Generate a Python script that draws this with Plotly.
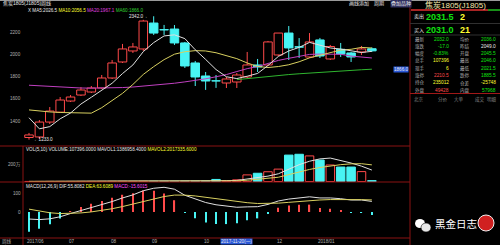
import plotly.graph_objects as go

W, H = 500, 245
def px(x): return x / W
def py(y): return 1 - y / H

FONT = "Liberation Sans, Noto Sans CJK SC, DejaVu Sans"

weeks = ["2017-06-05","2017-06-12","2017-06-19","2017-06-26","2017-07-03","2017-07-10","2017-07-17",
         "2017-07-24","2017-07-31","2017-08-07","2017-08-14","2017-08-21","2017-08-28","2017-09-04",
         "2017-09-11","2017-09-18","2017-09-25","2017-10-09","2017-10-16","2017-10-23","2017-10-30",
         "2017-11-06","2017-11-13","2017-11-20","2017-11-27","2017-12-04","2017-12-11","2017-12-18",
         "2017-12-25","2018-01-01","2018-01-08","2018-01-15","2018-01-22","2018-01-29"]
opens  = [1252,1257,1391,1480,1580,1634,1661,1697,1787,1931,2030,2048,2281,2222,2227,2102,1922,1805,
          1762,1742,1751,1796,1904,1904,1994,2191,2068,1976,2129,1958,2045,2012,2021,2050]
highs  = [1293,1409,1526,1616,1634,1706,1715,1814,1949,2093,2102,2310,2342,2264,2263,2111,1940,1841,
          1814,1796,1832,2021,1958,2120,2191,2254,2146,2191,2147,2084,2102,2021,2075,2062]
lows   = [1233,1238,1373,1472,1571,1625,1652,1688,1778,1922,2012,2030,2174,2174,2084,1877,1715,1680,
          1698,1697,1697,1787,1841,1895,1985,1949,1967,1967,1967,1949,1976,1931,1994,2021]
closes = [1275,1391,1490,1589,1616,1679,1697,1787,1922,2048,2066,2299,2191,2219,2102,1895,1796,1760,
          1760,1778,1814,1904,1886,2111,2191,2057,2064,2111,1985,2070,2003,1976,2048,2031]
ma5  = [1430,1330,1350,1420,1472,1553,1614,1674,1740,1827,1904,2024,2105,2165,2175,2141,2041,1954,
        1863,1798,1782,1803,1828,1899,1981,2030,2062,2107,2082,2057,2047,2029,2016,2026.5]
ma10 = [1500,1490,1482,1477,1474,1472,1471,1520,1585,1649,1729,1819,1889,1952,2001,2023,2033,2030,
        2014,1987,1961,1922,1891,1881,1890,1906,1933,1968,1990,2019,2038,2045,2062,2056.5]
ma20 = [1722,1716,1710,1705,1700,1697,1696,1696,1698,1701,1706,1713,1721,1730,1740,1752,1765,1780,
        1798,1818,1845,1871,1890,1917,1945,1964,1983,1999,2002,2003,2000,1984,1977,1967.1]
ma60 = [None]*20 + [1772,1782,1792,1802,1810,1818,1825,1832,1838,1844,1850,1855,1861,1866.0]
volumes = [8000,9000,12000,10000,11000,12000,15000,18000,22000,25000,20000,30000,28000,25000,30000,
           40000,45000,60000,250000,80000,200000,800000,1000000,1180000,1500000,3200000,3300000,
           3100000,2600000,2000000,1750000,1750000,1200000,107396]
mavol1 = [9000,9500,10000,10000,10000,10800,12000,13200,15600,18400,20000,23000,25000,25600,26600,
          30600,33600,40000,85000,95000,127000,278000,466000,652000,936000,1536000,2036000,2456000,
          2740000,2840000,2550000,2240000,1860000,1386958.4]
mavol2 = [9000,9200,9500,9700,9800,10000,10500,11200,12600,14200,15200,17300,19000,20500,22400,
          25300,28300,32500,55000,60000,75000,156000,253000,369000,516000,832000,1157000,1461000,
          1696000,1888000,2043000,2138000,2158000,2017335.6]
dif = [-37,-40,-36,-25,-8,8,22,37,55,74,90,112,125,130,120,88,68,50,38,30,25,27,28,40,58,68,75,80,
       74,74,70,63,63,55.8082]
dea = [15,4,-4,-8.2,-8.2,-4.9,0.5,7.8,17.2,28.6,40.8,55.1,69.1,81.3,89.0,88.8,84.6,77.7,69.8,61.8,
       54.4,49.0,44.8,43.8,46.6,50.9,55.7,60.6,63.3,65.4,66.3,65.6,65.1,63.6089]
macd = [-104,-88,-64,-33.6,0.4,25.8,43,58.4,75.6,90.8,98.4,113.8,111.8,97.4,62,-1.6,-33.2,-55.4,
        -63.6,-63.6,-58.8,-44,-33.6,-7.6,22.8,34.2,38.6,38.8,21.4,17.2,7.4,-5.2,-4.2,-15.6015]
month_idx = [0,4,8,12,17,24,28]
month_lbl = ["2017/06","07","08","09","10","12","2018/01"]
price_ticks = [2200,2000,1800,1600,1400]

RED = "#ff4a4a"
CYAN = "#48f4f4"
GRN = "#10e010"
YEL = "#ffff30"
WHT = "#e8e8e8"
GRY = "#b0b0b0"
LINE_RED = "#8a1212"

X = list(range(len(weeks)))
up = [c >= o for o, c in zip(opens, closes)]

fig = go.Figure()

# wicks (split so hollow bodies stay empty)
for flag, col in ((True, RED), (False, CYAN)):
    wx, wy = [], []
    for i in X:
        if up[i] != flag:
            continue
        top, bot = max(opens[i], closes[i]), min(opens[i], closes[i])
        wx += [i, i, None, i, i, None]
        wy += [highs[i], top, None, bot, lows[i], None]
    fig.add_trace(go.Scatter(x=wx, y=wy, mode="lines", line=dict(color=col, width=1),
                             hoverinfo="skip", showlegend=False))

# bodies
fig.add_trace(go.Bar(
    x=X, y=[max(abs(c - o), 2) for o, c in zip(opens, closes)],
    base=[min(o, c) for o, c in zip(opens, closes)], width=0.82,
    marker=dict(color=["black" if u else CYAN for u in up],
                line=dict(color=[RED if u else CYAN for u in up], width=1)),
    showlegend=False, hoverinfo="skip"))

# moving averages
for arr, col in ((ma60, "#2fb52f"), (ma20, "#c040c0"), (ma10, "#d8d060"), (ma5, "#e0e0e0")):
    fig.add_trace(go.Scatter(x=X, y=arr, mode="lines", line=dict(color=col, width=1),
                             showlegend=False, hoverinfo="skip"))

# volume
fig.add_trace(go.Bar(
    x=X, y=volumes, width=0.82, yaxis="y2",
    marker=dict(color=["black" if u else CYAN for u in up],
                line=dict(color=[RED if u else CYAN for u in up], width=1)),
    showlegend=False, hoverinfo="skip"))
fig.add_trace(go.Scatter(x=X, y=mavol1, yaxis="y2", mode="lines", line=dict(color="#e0e0e0", width=1),
                         showlegend=False, hoverinfo="skip"))
fig.add_trace(go.Scatter(x=X, y=mavol2, yaxis="y2", mode="lines", line=dict(color="#d8d060", width=1),
                         showlegend=False, hoverinfo="skip"))

# MACD
fig.add_trace(go.Bar(
    x=X, y=macd, width=0.12, yaxis="y3",
    marker=dict(color=[RED if v >= 0 else CYAN for v in macd], line=dict(width=0)),
    showlegend=False, hoverinfo="skip"))
fig.add_trace(go.Scatter(x=X, y=dif, yaxis="y3", mode="lines", line=dict(color="#e0e0e0", width=1),
                         showlegend=False, hoverinfo="skip"))
fig.add_trace(go.Scatter(x=X, y=dea, yaxis="y3", mode="lines", line=dict(color="#d8d060", width=1),
                         showlegend=False, hoverinfo="skip"))

ann = []
def A(x, y, text, color=WHT, size=4.6, xanchor="left", yanchor="middle", bg=None, xref="paper",
      yref="paper"):
    d = dict(x=x, y=y, text=text, showarrow=False, xref=xref, yref=yref, xanchor=xanchor,
             yanchor=yanchor, font=dict(color=color, size=size, family=FONT), borderpad=0,
             align="left")
    if bg:
        d["bgcolor"] = bg
    ann.append(d)

def S(text, color):
    return f'<span style="color:{color}">{text}</span>'

# header / titles
A(px(2), py(4), "焦炭1805(J1805)周线", WHT, 5)
A(px(348), py(4), "画线添加", WHT, 5)
A(px(373), py(4), "周期", WHT, 5)
A(px(390), py(4), "叠加品种", WHT, 5, bg="#303060")
A(px(27), py(11),
  S("X", WHT) + " " + S("MA5:2026.5", WHT) + " " + S("MA10:2056.5", YEL) + " " +
  S("MA20:1967.1", "#e040e0") + " " + S("MA60:1866.0", "#30d030"), WHT, 4.6)
A(px(25), py(149.5),
  S("VOL(5,10) VOLUME:107396.0000 MAVOL1:1386958.4000 ", WHT) + S("MAVOL2:2017335.6000", YEL),
  WHT, 4.6)
A(px(25), py(186),
  S("MACD(12,26,9) DIF:55.8082 ", WHT) + S("DEA:63.6089 ", YEL) + S("MACD:-15.6015", "#ff50ff"),
  WHT, 4.6)

# axis labels
for t in price_ticks:
    A(px(21.5), t, str(t), GRY, 4.6, xanchor="right", yref="y")
A(px(21.5), 2000000, "200万", GRY, 4.6, xanchor="right", yref="y2")
A(px(21.5), 100, "100", GRY, 4.6, xanchor="right", yref="y3")
A(px(21.5), 0, "0", GRY, 4.6, xanchor="right", yref="y3")

# extremes
A(11.55, 2342, "2342.0→", WHT, 4.6, xanchor="right", xref="x", yref="y")
A(0.35, 1233, "←1233.0", WHT, 4.6, xanchor="left", xref="x", yref="y")
A(px(409), 1866.0, "1866.0", WHT, 4.6, xanchor="right", yref="y", bg="#2a58d8")

# date axis
A(px(1), py(241.5), "周线", GRY, 4.6)
for i, lbl in zip(month_idx, month_lbl):
    A(i - 0.25, py(241.5), lbl, GRY, 4.6, xref="x")
A(20, py(241.5), "2017-11-20(一)", WHT, 4.6, xanchor="center", xref="x", bg="#2a58d8")

# right panel
A(px(455), py(5), "焦炭1805(J1805)", "#f4e6a8", 8, xanchor="center")
A(px(413), py(17), "卖出", WHT, 5)
A(px(455), py(17), "<b>2031.5</b>", GRN, 9, xanchor="right")
A(px(459), py(17), "<b>2</b>", YEL, 9)
A(px(413), py(30), "买入", WHT, 5)
A(px(455), py(30), "<b>2031.0</b>", GRN, 9, xanchor="right")
A(px(459), py(30), "<b>21</b>", YEL, 9)

rows = [("最新", "2032.0", GRN, "均价", "2036.0", GRN),
        ("涨跌", "-17.0", GRN, "昨结", "2049.0", WHT),
        ("幅度", "-0.83%", GRN, "开盘", "2045.5", GRN),
        ("总手", "107396", YEL, "最高", "2046.0", GRN),
        ("现手", "6", YEL, "最低", "2021.5", GRN),
        ("涨停", "2210.5", RED, "跌停", "1885.5", GRN),
        ("持仓", "235012", YEL, "仓差", "-25748", YEL),
        ("外盘", "49428", RED, "内盘", "57968", GRN)]
for k, (l1, v1, c1, l2, v2, c2) in enumerate(rows):
    yy = py(39 + 7.3 * k)
    A(px(414), yy, l1, GRY, 4.5)
    A(px(450), yy, v1, c1, 4.8, xanchor="right")
    A(px(459), yy, l2, GRY, 4.5)
    A(px(497), yy, v2, c2, 4.8, xanchor="right")
A(px(413), py(99.5), "北京", "#808080", 4.5)
for xx, t in ((437, "分价"), (453, "大单"), (474, "成交"), (486, "明细")):
    A(px(xx), py(99.5), t, "#808080", 4.5)

# watermark
A(px(434), py(224), "黑金日志", "#ffffff", 10.5)

shapes = []
def L(x0, y0, x1, y1, color=LINE_RED, width=1):
    shapes.append(dict(type="line", xref="paper", yref="paper", x0=px(x0), y0=py(y0), x1=px(x1),
                       y1=py(y1), line=dict(color=color, width=width), layer="above"))

L(0, 0.5, 500, 0.5, "#9a9a9a")
L(0, 146, 410, 146)
L(0, 182, 410, 182)
L(0, 238, 410, 238)
L(23, 146, 23, 245)
L(410, 0, 410, 245)
L(411, 10, 488, 10, "#e03030", 1.5)
L(488, 10, 500, 10, "#20c020", 1.5)
L(410, 23.5, 500, 23.5, "#303030")
L(410, 35, 500, 35, "#303030")
L(410, 93.5, 500, 93.5, "#a01818")
# wechat-like icon and round logo of the watermark
shapes.append(dict(type="circle", xref="paper", yref="paper", x0=px(415), x1=px(425), y0=py(228),
                   y1=py(219), fillcolor="white", line=dict(width=0)))
shapes.append(dict(type="circle", xref="paper", yref="paper", x0=px(421), x1=px(431), y0=py(232),
                   y1=py(223), fillcolor="#e8e8e8", line=dict(color="black", width=0.6)))
shapes.append(dict(type="circle", xref="paper", yref="paper", x0=px(478), x1=px(494), y0=py(231),
                   y1=py(215), fillcolor="#d02020", line=dict(color="#f0f0f0", width=1)))

fig.update_layout(
    width=W, height=H, margin=dict(l=0, r=0, t=0, b=0),
    paper_bgcolor="black", plot_bgcolor="black", barmode="overlay", showlegend=False,
    xaxis=dict(domain=[0, px(410)], range=[-2.791, 36.67], visible=False, fixedrange=True),
    yaxis=dict(domain=[py(146), 1], range=[1175.7, 2488.1], visible=False),
    yaxis2=dict(domain=[py(182), py(146)], range=[-60606, 4303030], visible=False, anchor="x"),
    yaxis3=dict(domain=[py(238), py(182)], range=[-136.84, 157.89], visible=False, anchor="x"),
    annotations=ann, shapes=shapes,
)
fig.write_html("out.html")
